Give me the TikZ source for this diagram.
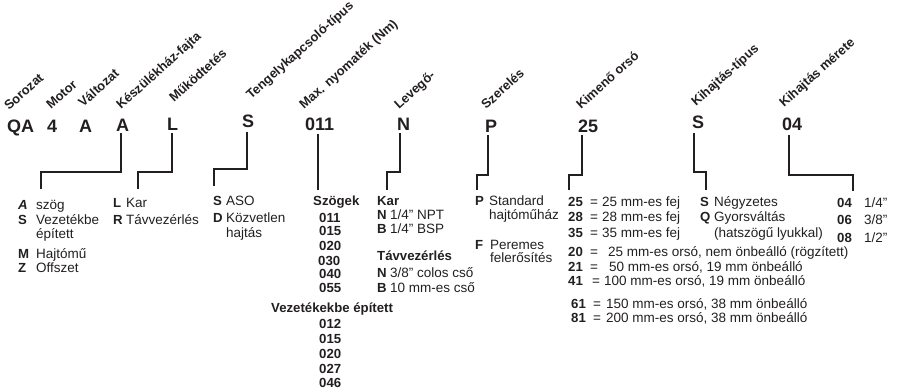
\documentclass[tikz,border=0pt]{standalone}
\usepackage{fontspec}
\setmainfont{Liberation Sans}
\definecolor{ink}{RGB}{35,31,32}
\begin{document}
\begin{tikzpicture}[x=1pt,y=-1pt,
 code/.style={font=\fontsize{18}{20}\selectfont\bfseries, anchor=base west, inner sep=0pt, text=ink},
 lab/.style={font=\fontsize{12.9}{14}\selectfont\bfseries, anchor=base west, inner sep=0pt, rotate=42, text=ink},
 txt/.style={font=\fontsize{13.5}{16}\selectfont, anchor=base west, inner sep=0pt, text=ink},
 btxt/.style={font=\fontsize{13.2}{16}\selectfont\bfseries, anchor=base west, inner sep=0pt, text=ink},
 conn/.style={draw=ink, line width=1.8pt}]
\useasboundingbox (0,0) rectangle (900,389);
% codes
\node[code] (c1) at (7,132) {QA};
\node[code] (c2) at (47,132) {4};
\node[code] (c3) at (79,132) {A};
\node[code] (c4) at (116,131) {A};
\node[code] (c5) at (167,130) {L};
\node[code] (c6) at (242,127) {S};
\node[code] (c7) at (305,130) {011};
\node[code] (c8) at (397,130) {N};
\node[code] (c9) at (485,132) {P};
\node[code] (c10) at (578,132) {25};
\node[code] (c11) at (692,128) {S};
\node[code] (c12) at (782,130) {04};
% rotated labels
\node[lab] (l1) at (9,111) {Sorozat};
\node[lab] (l2) at (51,110) {Motor};
\node[lab] (l3) at (83,108) {Változat};
\node[lab] (l4) at (121,110) {Készülékház-fajta};
\node[lab] (l5) at (174,103) {Működtetés};
\node[lab] (l6) at (251,100) {Tengelykapcsoló-típus};
\node[lab] (l7) at (304,110) {Max. nyomaték (Nm)};
\node[lab] (l8) at (399,110) {Levegő-};
\node[lab] (l9) at (486,110) {Szerelés};
\node[lab] (l10) at (581,110) {Kimenő orsó};
\node[lab] (l11) at (696,107) {Kihajtás-típus};
\node[lab] (l12) at (784,108) {Kihajtás mérete};
% connector points
\coordinate (a4) at (121,133); \coordinate (m4) at (41,172); \coordinate (e4) at (41,189);
\coordinate (a5) at (172,133); \coordinate (m5) at (138,172); \coordinate (e5) at (138,189);
\coordinate (a6) at (247,132); \coordinate (m6) at (214,169); \coordinate (e6) at (214,186);
\coordinate (a7) at (318,134); \coordinate (e7) at (318,190);
\coordinate (a8) at (400,133); \coordinate (m8) at (387,172); \coordinate (e8) at (387,190);
\coordinate (a9) at (488,135); \coordinate (m9) at (477,175); \coordinate (e9) at (477,190);
\coordinate (a10) at (582,135); \coordinate (m10) at (569,175); \coordinate (e10) at (569,190);
\coordinate (a11) at (694,133); \coordinate (m11) at (706,172); \coordinate (e11) at (706,190);
\coordinate (a12) at (789,135); \coordinate (m12) at (853,175); \coordinate (e12) at (853,191);
\draw[conn] (a4) |- (m4) -- (e4);
\draw[conn] (a5) |- (m5) -- (e5);
\draw[conn] (a6) |- (m6) -- (e6);
\draw[conn] (a7) -- (e7);
\draw[conn] (a8) |- (m8) -- (e8);
\draw[conn] (a9) |- (m9) -- (e9);
\draw[conn] (a10) |- (m10) -- (e10);
\draw[conn] (a11) |- (m11) -- (e11);
\draw[conn] (a12) |- (m12) -- (e12);
% column 1
\node[btxt, font=\fontsize{13.2}{16}\selectfont\bfseries\itshape] (k1a) at (18,209) {A};
\node[txt] (t1a) at (36,209) {szög};
\node[btxt] (k1b) at (18,224) {S};
\node[txt] (t1b) at (36,224) {Vezetékbe};
\node[txt] (t1c) at (36,238) {épített};
\node[btxt] (k1d) at (18,258) {M};
\node[txt] (t1d) at (36,258) {Hajtómű};
\node[btxt] (k1e) at (18,272) {Z};
\node[txt] (t1e) at (36,272) {Offszet};
% column 2
\node[btxt] (k2a) at (113,207) {L};
\node[txt] (t2a) at (126,207) {Kar};
\node[btxt] (k2b) at (113,224) {R};
\node[txt] (t2b) at (126,224) {Távvezérlés};
% column 3
\node[btxt] (k3a) at (213,205) {S};
\node[txt] (t3a) at (226,205) {ASO};
\node[btxt] (k3b) at (213,222) {D};
\node[txt] (t3b) at (226,222) {Közvetlen};
\node[txt] (t3c) at (226,237) {hajtás};
% column 4
\node[btxt] (h4a) at (313,205) {Szögek};
\node[btxt] (n4a) at (319,222) {011};
\node[btxt] (n4b) at (319,235) {015};
\node[btxt] (n4c) at (319,250) {020};
\node[btxt] (n4d) at (318,265) {030};
\node[btxt] (n4e) at (319,278) {040};
\node[btxt] (n4f) at (319,292) {055};
\node[btxt] (h4b) at (271,312) {Vezetékekbe épített};
\node[btxt] (n4g) at (319,328) {012};
\node[btxt] (n4h) at (319,343) {015};
\node[btxt] (n4i) at (319,358) {020};
\node[btxt] (n4j) at (319,373) {027};
\node[btxt] (n4k) at (319,387) {046};
% column 5
\node[btxt] (h5a) at (377,205) {Kar};
\node[btxt] (k5a) at (377,219) {N};
\node[txt] (t5a) at (390,219) {1/4” NPT};
\node[btxt] (k5b) at (377,233) {B};
\node[txt] (t5b) at (390,233) {1/4” BSP};
\node[btxt] (h5b) at (377,260) {Távvezérlés};
\node[btxt] (k5c) at (377,277) {N};
\node[txt] (t5c) at (390,277) {3/8” colos cső};
\node[btxt] (k5d) at (377,292) {B};
\node[txt] (t5d) at (390,292) {10 mm-es cső};
% column 6
\node[btxt] (k6a) at (475,205) {P};
\node[txt] (t6a) at (489,205) {Standard};
\node[txt] (t6b) at (489,219) {hajtóműház};
\node[btxt] (k6c) at (475,249) {F};
\node[txt] (t6c) at (490,249) {Peremes};
\node[txt] (t6d) at (490,262) {felerősítés};
% column 7
\node[btxt] (k7a) at (568,206) {25};
\node[txt] (e7a) at (590,206) {=};
\node[txt] (t7a) at (602,206) {25 mm-es fej};
\node[btxt] (k7b) at (568,221) {28};
\node[txt] (e7b) at (590,221) {=};
\node[txt] (t7b) at (602,221) {28 mm-es fej};
\node[btxt] (k7c) at (568,237) {35};
\node[txt] (e7c) at (590,237) {=};
\node[txt] (t7c) at (602,237) {35 mm-es fej};
\node[btxt] (k7d) at (568,256) {20};
\node[txt] (e7d) at (590,256) {=};
\node[txt] (t7d) at (608,256) {25 mm-es orsó, nem önbeálló (rögzített)};
\node[btxt] (k7e) at (568,271) {21};
\node[txt] (e7e) at (590,271) {=};
\node[txt] (t7e) at (609,271) {50 mm-es orsó, 19 mm önbeálló};
\node[btxt] (k7f) at (568,285) {41};
\node[txt] (e7f) at (592,285) {=};
\node[txt] (t7f) at (604,285) {100 mm-es orsó, 19 mm önbeálló};
\node[btxt] (k7g) at (571,308) {61};
\node[txt] (e7g) at (593,308) {=};
\node[txt] (t7g) at (606,308) {150 mm-es orsó, 38 mm önbeálló};
\node[btxt] (k7h) at (571,322) {81};
\node[txt] (e7h) at (593,322) {=};
\node[txt] (t7h) at (606,322) {200 mm-es orsó, 38 mm önbeálló};
% column 8
\node[btxt] (k8a) at (700,206) {S};
\node[txt] (t8a) at (714,206) {Négyzetes};
\node[btxt] (k8b) at (700,221) {Q};
\node[txt] (t8b) at (714,221) {Gyorsváltás};
\node[txt] (t8c) at (714,237) {(hatszögű lyukkal)};
% column 9
\node[btxt] (k9a) at (837,207) {04};
\node[txt] (t9a) at (864,207) {1/4”};
\node[btxt] (k9b) at (837,224) {06};
\node[txt] (t9b) at (864,224) {3/8”};
\node[btxt] (k9c) at (837,242) {08};
\node[txt] (t9c) at (864,242) {1/2”};
\end{tikzpicture}
\end{document}
